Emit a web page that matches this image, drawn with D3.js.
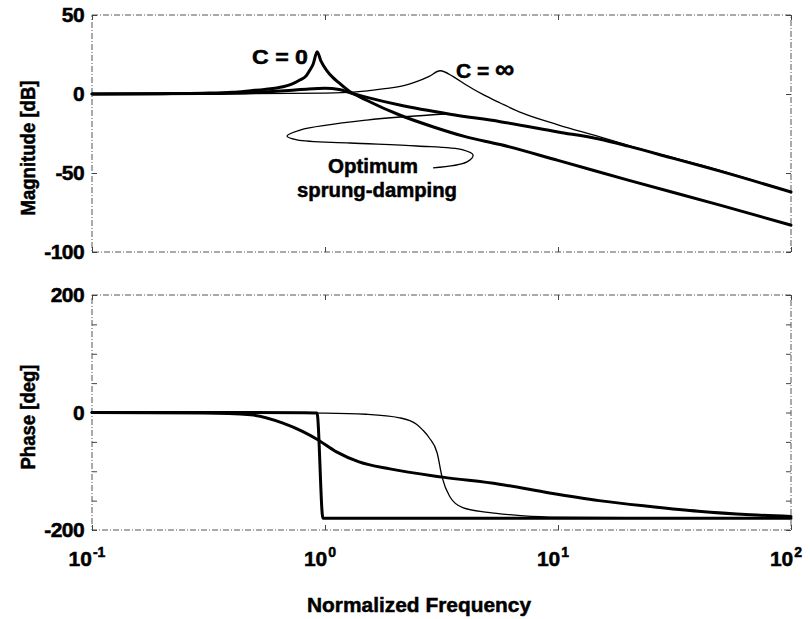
<!DOCTYPE html>
<html>
<head>
<meta charset="utf-8">
<script src="https://cdn.jsdelivr.net/npm/d3@7"></script>
<style>
  body { margin: 0; background: #fff; }
  text { font-family: "Liberation Sans", Arial, Helvetica, sans-serif; font-weight: bold; fill: #000;
         stroke: #000; stroke-width: 0.5px; }
</style>
</head>
<body>
<svg id="chart" width="810" height="619"></svg>
<script>
// Bode response of a suspended mass for three damper settings
// (frequency normalised to the C = 0 natural frequency).

// Magnitude, C = 0 (undamped)
const magFreqC0 = [0.1, 0.2, 0.3, 0.4, 0.48, 0.55, 0.66, 0.72, 0.78, 0.83, 0.86, 0.89, 0.925, 0.96, 1.016, 1.08, 1.15, 1.28, 1.5, 2.09, 2.9, 4, 5.65, 10, 20, 50, 100];
const magC0     = [0, 0.2, 0.5, 1.1, 2.1, 2.9, 4.6, 6.3, 8.9, 11.5, 15, 19, 26.8, 21, 15, 10.5, 7, 1.5, -3.8, -13.3, -20.7, -27, -32, -42, -54.5, -70.5, -83];

// Magnitude, C = infinity (locked damper)
const magFreqCinf = [0.1, 0.5, 1, 1.32, 1.77, 2.2, 2.47, 2.8, 3.12, 3.55, 4.04, 4.8, 5.65, 7, 10, 15, 20, 50, 100];
const magCinf     = [0, 0.2, 0.6, 1.2, 3.2, 5.5, 7.8, 11.2, 14.7, 11, 5.7, -0.6, -5.7, -12, -19.5, -27, -32.5, -48.5, -62];

// Magnitude, optimum sprung damping
const magFreqOpt = [0.1, 0.3, 0.5, 0.7, 0.85, 1.0, 1.15, 1.3, 1.5, 2.09, 3.44, 5.65, 10, 15, 20, 30, 50, 100];
const magOpt     = [0, 0.3, 1, 2.2, 3.2, 3.6, 2.8, 0.5, -2, -7, -12.8, -17.5, -24, -28.5, -33, -40, -49, -62];

// Phase, C = 0
const phFreqC0 = [0.1, 0.5, 0.8, 0.924, 0.98, 2, 10, 100];
const phC0     = [0, 0, -0.5, -1, -180, -180, -180, -180];

// Phase, C = infinity
const phFreqCinf = [0.1, 0.5, 1, 1.5, 2.09, 2.47, 2.63, 2.8, 3.03, 3.18, 3.43, 3.9, 5, 6.2, 9.2, 20, 100];
const phCinf     = [0, -0.3, -1, -3, -9, -20, -30, -43, -69, -110, -143, -162, -170, -174, -178, -179, -180];

// Phase, optimum sprung damping
const phFreqOpt = [0.1, 0.3, 0.48, 0.66, 0.8, 0.92, 1.12, 1.4, 1.9, 3.2, 5.6, 9.2, 15, 25, 40, 67, 100];
const phOpt     = [0, -1, -4, -18, -32, -45, -67, -84, -96, -110, -122, -137, -150, -160, -168, -174, -177];

// Axis ticks
const freqTicks = [0.1, 1, 10, 100];
const freqExponents = ["-1", "0", "1", "2"];
const magTicks = [50, 0, -50, -100];
const phaseTicks = [200, 150, 100, 50, 0, -50, -100, -150, -200];
const phaseLabelled = [200, 0, -200];

// Pointer from the "Optimum sprung-damping" note to its curve, in (frequency, dB)
const noteFreq = [2.91, 4.07, 4.32, 3.91, 2.48, 1.28, 0.759, 0.687, 0.782, 1.51, 3.44];
const noteDb   = [-46.8, -43, -38.6, -35.4, -32.9, -31, -29.1, -26.6, -22.8, -16.5, -12.5];

const svg = d3.select("#chart");

const left = 92, right = 791;
const x = d3.scaleLog().domain([0.1, 100]).range([left, right]);
const yMag = d3.scaleLinear().domain([-100, 50]).range([252, 15]);
const yPh = d3.scaleLinear().domain([-200, 200]).range([530, 295]);

const frameStyle = g => g.attr("fill", "none").attr("stroke", "#555")
  .attr("stroke-width", 1).attr("stroke-dasharray", "6,2,1,2");

function panel(y, yTicks, labelFn) {
  const g = svg.append("g");
  const [y0, y1] = y.range();
  // frame
  g.append("rect").attr("x", left).attr("y", y1)
    .attr("width", right - left).attr("height", y0 - y1).call(frameStyle);
  // left axis: inward ticks, bold labels
  const axL = g.append("g").attr("transform", `translate(${left},0)`)
    .call(d3.axisLeft(y).tickValues(yTicks).tickSize(-5).tickPadding(8).tickFormat(labelFn));
  axL.select(".domain").remove();
  axL.selectAll(".tick line").attr("stroke", "#444");
  axL.selectAll(".tick text").attr("font-size", 21).attr("font-family", null)
    .style("letter-spacing", "-0.6px");
  // right axis ticks
  const axR = g.append("g").attr("transform", `translate(${right},0)`)
    .call(d3.axisRight(y).tickValues(yTicks).tickSize(-5).tickFormat(""));
  axR.select(".domain").remove();
  axR.selectAll(".tick line").attr("stroke", "#444");
  // top and bottom decade ticks
  [[y0, d3.axisBottom], [y1, d3.axisTop]].forEach(([yy, ax]) => {
    const a = g.append("g").attr("transform", `translate(0,${yy})`)
      .call(ax(x).tickValues(freqTicks).tickSize(-5).tickFormat(""));
    a.select(".domain").remove();
    a.selectAll(".tick line").attr("stroke", "#444");
  });
  return g;
}

const gMag = panel(yMag, magTicks, d => String(d));
const gPh = panel(yPh, phaseTicks, d => phaseLabelled.includes(d) ? String(d) : "");

function curve(g, y, fs, vs, width) {
  const pts = fs.map((f, i) => [f, vs[i]]);
  g.append("path").datum(pts)
    .attr("fill", "none").attr("stroke", "#000")
    .attr("stroke-width", width).attr("stroke-linejoin", "round").attr("stroke-linecap", "round")
    .attr("d", d3.line().x(d => x(d[0])).y(d => y(d[1])).curve(d3.curveMonotoneX));
}

curve(gMag, yMag, magFreqCinf, magCinf, 1.3);
curve(gMag, yMag, magFreqOpt, magOpt, 3);
curve(gMag, yMag, magFreqC0, magC0, 3);

curve(gPh, yPh, phFreqCinf, phCinf, 1.3);
curve(gPh, yPh, phFreqOpt, phOpt, 3);
curve(gPh, yPh, phFreqC0, phC0, 3);

// Note pointer
gMag.append("path").datum(noteFreq.map((f, i) => [f, noteDb[i]]))
  .attr("fill", "none").attr("stroke", "#000").attr("stroke-width", 1.3)
  .attr("d", d3.line().x(d => x(d[0])).y(d => yMag(d[1])).curve(d3.curveCatmullRom.alpha(0.5)));

// Curve labels
gMag.append("text").attr("x", 252).attr("y", 64).attr("font-size", 21)
  .attr("textLength", 56).attr("lengthAdjust", "spacingAndGlyphs").text("C = 0");
const cinf = gMag.append("text").attr("x", 456).attr("y", 78).attr("font-size", 21);
cinf.append("tspan").text("C = ");
cinf.append("tspan").attr("font-size", 27).text("∞");
gMag.append("text").attr("x", 373).attr("y", 173).attr("font-size", 20)
  .attr("text-anchor", "middle").attr("textLength", 90).attr("lengthAdjust", "spacingAndGlyphs")
  .text("Optimum");
gMag.append("text").attr("x", 377).attr("y", 197).attr("font-size", 20)
  .attr("text-anchor", "middle").attr("textLength", 160).attr("lengthAdjust", "spacingAndGlyphs")
  .text("sprung-damping");

// Frequency tick labels with superscript exponents
const xl = svg.append("g");
freqTicks.forEach((f, i) => {
  const t = xl.append("text").attr("x", x(f) - 5).attr("y", 566)
    .attr("text-anchor", "middle").attr("font-size", 21);
  t.append("tspan").text("10");
  t.append("tspan").attr("font-size", 14).attr("dy", -9).attr("dx", 1).text(freqExponents[i]);
});

// Axis titles
svg.append("text").attr("x", 419).attr("y", 612).attr("text-anchor", "middle")
  .attr("font-size", 21).attr("textLength", 224).attr("lengthAdjust", "spacingAndGlyphs")
  .text("Normalized Frequency");
svg.append("text").attr("transform", "translate(35,148) rotate(-90)")
  .attr("text-anchor", "middle").attr("font-size", 20)
  .attr("textLength", 135).attr("lengthAdjust", "spacingAndGlyphs")
  .text("Magnitude [dB]");
svg.append("text").attr("transform", "translate(35,417) rotate(-90)")
  .attr("text-anchor", "middle").attr("font-size", 20)
  .attr("textLength", 105).attr("lengthAdjust", "spacingAndGlyphs")
  .text("Phase [deg]");
</script>
</body>
</html>
